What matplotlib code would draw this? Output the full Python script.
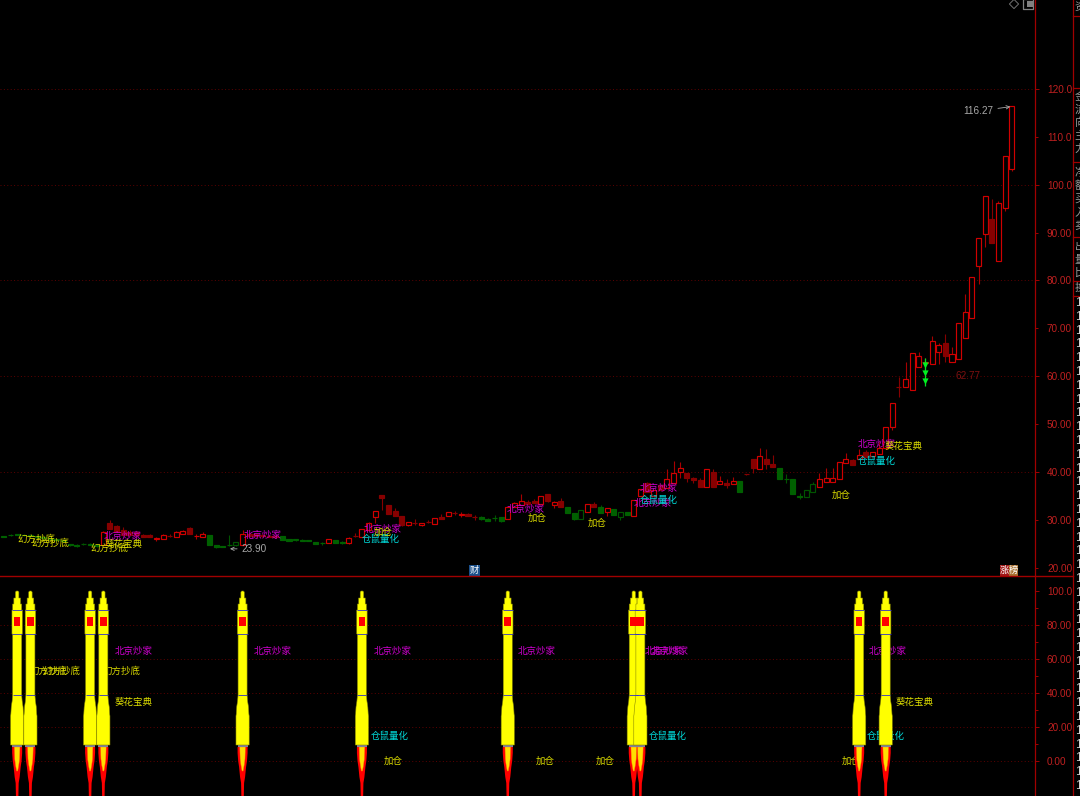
import matplotlib
matplotlib.use("Agg")
import matplotlib.pyplot as plt

plt.rcParams['font.family'] = ['Noto Sans CJK SC', 'DejaVu Sans']

# candles: r hollow red, d filled dark red, g filled green, h hollow green
kinds = list("gggggggggggghgg" "rdddddddrrdrrdrr" "gggghrddddd" "gggggggrggrdrrr"
             "ddddrdrdrdrdrdd" "ggggrrrddrdrd" "gghrdgrghg" "rrdrdrrrdddrdrdrg"
             "ddrddgggghh" "rrrrrdrdrrrr" "drrrrrrdrrrrrrdrrr")
opens = [26.5,26.8,26.9,26.8,26.7,26.5,26.3,26.1,25.9,25.7,24.9,24.6,24.9,25.0,24.8,
         24.7,29.3,28.6,27.8,27.5,27.5,26.8,26.8,26.0,26.0,26.6,26.3,27.1,28.3,26.5,26.4,
         26.8,24.7,24.4,24.7,24.6,24.8,26.9,26.9,26.8,26.6,26.5,26.6,25.9,25.9,
         25.7,25.7,25.4,25.2,25.2,25.7,25.4,25.2,26.6,26.3,27.9,30.5,35.2,33.1,31.8,30.8,
         28.8,29.2,28.9,29.6,29.0,30.6,30.75,31.3,31.0,31.1,30.6,30.6,30.1,30.4,30.5,
         30.05,32.6,33.1,33.7,33.8,33.2,35.4,33.1,33.8,32.6,31.3,30.05,31.7,33.2,
         32.7,31.5,32.2,30.6,31.5,30.8,35.0,37.6,35.0,37.2,36.7,37.6,40.0,39.7,38.8,38.3,
         36.9,40.0,37.4,37.6,37.4,38.05,39.5,42.6,40.5,42.6,41.6,40.85,38.5,38.4,34.9,
         34.8,35.7,36.9,37.8,37.9,38.55,41.8,42.45,42.6,44.2,43.3,43.65,44.9,49.3,
         57.8,57.8,57.0,61.95,62.8,62.45,64.95,67.0,62.85,63.6,68.0,72.05,83.1,89.6,92.8,84.05,95.1,103.2]
highs = [26.6,26.9,27.0,26.9,26.8,26.6,26.4,26.2,26.0,25.8,25.0,24.9,25.1,25.1,24.9,
         27.6,30.0,28.9,28.4,27.9,27.7,27.1,27.0,26.4,27.1,27.1,27.6,27.9,28.5,27.0,27.5,
         26.8,24.7,24.5,26.8,25.3,27.8,27.3,27.1,27.0,26.8,26.7,26.6,26.0,26.0,
         25.9,25.8,25.4,25.4,25.9,25.8,25.5,26.3,27.2,28.1,29.5,31.9,35.2,33.1,32.4,30.8,
         29.5,30.1,29.4,30.0,30.3,31.2,31.6,31.9,31.6,31.3,31.0,30.8,30.4,31.0,30.6,
         32.6,33.6,35.4,34.1,34.3,35.0,35.4,33.8,34.5,32.6,31.3,32.0,33.3,33.6,
         33.0,32.5,32.3,31.7,31.6,34.2,36.4,37.9,36.2,37.5,40.5,42.2,42.1,39.7,38.9,38.6,
         40.5,40.5,39.1,38.4,39.0,38.05,39.6,42.6,44.9,44.75,43.5,40.85,39.5,38.4,35.6,
         36.2,37.9,39.7,40.7,40.7,42.0,43.85,42.6,44.7,44.5,44.1,46.3,49.3,54.3,
         59.9,63.0,64.9,65.1,63.7,68.4,67.0,68.7,66.1,71.0,77.1,80.8,88.8,97.6,97.0,96.6,105.9,116.45]
lows = [26.3,26.6,26.7,26.6,26.4,26.2,26.0,25.8,25.6,25.4,24.5,24.3,24.6,24.7,24.3,
        24.6,28.0,27.4,26.7,26.7,26.7,26.3,26.3,25.6,26.0,26.4,26.3,27.1,27.0,26.0,26.4,
        24.8,24.1,24.3,24.4,24.5,24.8,26.4,26.4,26.4,26.3,26.2,25.8,25.5,25.6,
        25.5,25.5,24.9,24.8,25.2,25.2,25.0,24.9,26.4,26.3,27.9,29.3,32.0,31.2,30.8,28.7,
        28.6,28.9,28.7,29.3,29.0,30.2,30.75,31.0,30.6,30.8,30.0,30.0,29.8,29.8,29.6,
        30.05,32.6,33.1,33.3,33.4,33.2,33.7,32.5,32.7,31.3,29.9,30.05,31.7,32.7,
        31.3,30.8,31.0,30.0,30.9,30.8,35.0,35.8,35.0,36.2,36.7,37.6,38.8,37.85,37.6,36.9,
        36.9,36.9,37.4,36.7,37.4,35.8,39.4,39.65,40.5,40.5,40.9,38.4,37.6,35.4,34.4,
        34.8,35.7,36.9,37.8,37.9,38.55,41.8,41.4,42.6,43.15,43.3,43.65,44.9,48.7,
        55.7,57.8,57.0,61.95,60.5,62.45,62.5,63.0,62.85,63.6,68.0,72.05,79.2,87.0,87.9,84.05,94.4,102.9]
closes = [26.3,26.7,26.8,26.7,26.5,26.3,26.1,25.9,25.7,25.5,24.6,24.5,25.0,24.8,24.4,
          27.5,28.1,27.5,26.8,26.8,26.8,26.4,26.4,26.1,26.8,26.6,27.5,27.6,27.0,26.6,27.0,
          24.8,24.2,24.35,24.6,25.3,26.9,26.5,26.6,26.5,26.4,26.4,25.8,25.6,25.7,
          25.6,25.6,24.9,25.1,25.9,25.2,25.05,26.2,26.5,28.0,29.4,31.9,34.6,31.2,30.8,28.8,
          29.5,29.2,29.4,29.6,30.3,30.2,31.5,31.3,31.2,30.8,30.6,30.1,29.8,30.3,29.65,
          32.6,33.55,33.8,33.3,33.4,35.0,33.8,33.75,32.7,31.3,30.1,32.0,33.2,32.7,
          31.3,32.5,31.0,31.7,30.95,34.2,36.4,35.8,36.2,36.2,38.4,39.7,40.85,38.8,38.3,36.9,
          40.5,36.9,38.05,37.2,38.05,35.8,39.5,40.7,43.3,41.55,40.9,38.4,38.4,35.4,34.7,
          36.2,37.4,38.4,38.8,38.8,42.0,42.6,41.4,43.6,43.15,44.05,44.9,49.3,54.3,
          57.8,59.3,64.9,64.3,63.0,67.4,66.55,64.25,64.55,71.0,73.3,80.8,88.8,97.6,87.9,96.2,105.9,116.45]

price_ticks_major = [40, 60, 80, 100, 120]
price_labels_major = ["40.00", "60.00", "80.00", "100.0", "120.0"]
price_ticks_minor = [20, 30, 50, 70, 90, 110]
price_labels_minor = ["20.00", "30.00", "50.00", "70.00", "90.00", "110.0"]
osc_ticks = [0, 20, 40, 60, 80, 100]
osc_labels = ["0.00", "20.00", "40.00", "60.00", "80.00", "100.0"]
osc_minor = [10, 30, 50, 70, 90]

# labels on the candles: text, bar index, price
price_notes = [("幻方抄底", 2.1, 25.96), ("幻方抄底", 4.1, 25.1), ("幻方抄底", 13.1, 24.1),
               ("北京炒家", 15, 26.6), ("北京炒家", 36.1, 26.8), ("北京炒家", 54.3, 28.0),
               ("北京炒家", 75.9, 32.2), ("北京炒家", 95.9, 36.6), ("北京炒家", 95, 33.3),
               ("北京炒家", 128.8, 45.8), ("葵花宝典", 15.25, 24.9), ("葵花宝典", 132.9, 45.2),
               ("仓鼠量化", 54, 25.96), ("仓鼠量化", 95.9, 34.1), ("仓鼠量化", 128.8, 42.25),
               ("加仓", 55.8, 27.4), ("加仓", 79.05, 30.3), ("加仓", 88.1, 29.3), ("加仓", 124.9, 35.15)]
# labels in the lower panel: text, bar index, level
osc_notes = [("幻方抄底", 3.8, 52.9), ("幻方抄底", 5.75, 52.9), ("幻方抄底", 14.8, 52.9),
             ("北京炒家", 16.75, 64.7), ("北京炒家", 37.7, 64.7), ("北京炒家", 55.7, 64.7),
             ("北京炒家", 77.5, 64.7), ("北京炒家", 96.7, 64.7), ("北京炒家", 97.6, 64.7),
             ("北京炒家", 130.5, 64.7), ("葵花宝典", 16.75, 34.7), ("葵花宝典", 134.55, 34.7),
             ("仓鼠量化", 55.4, 14.7), ("仓鼠量化", 97.3, 14.7), ("仓鼠量化", 130.2, 14.7),
             ("加仓", 57.3, 0), ("加仓", 80.25, 0), ("加仓", 89.3, 0), ("加仓", 126.3, 0)]
note_colors = {"幻方抄底": "#d8d800", "北京炒家": "#d000d0", "葵花宝典": "#e0e000",
               "仓鼠量化": "#00d8d8", "加仓": "#d8d800"}

rocket_bars = [2, 4, 13, 15, 36, 54, 76, 95, 96, 129, 133]
green_arrow_bar = 139
green_arrow_prices = [62.3, 60.7, 59.0]

RED = "#a00000"
TICK_TEXT = "#c02020"
GRID = "#5e0000"
BAR_PX = 6.63
PX0 = 3.9
PRICE_PX = 4.785
OSC_PX = 1.7
NOTE_SIZE = 6.8

fig = plt.figure(figsize=(10.8, 7.96), dpi=100, facecolor="black")

def px_axes(top, bottom):
    return fig.add_axes([0, 1 - bottom / 796, 1035 / 1080, (bottom - top) / 796], facecolor="black")

ax = px_axes(0, 576)
ax2 = px_axes(576, 796)
ax.set_xlim(-PX0 / BAR_PX, (1035 - PX0) / BAR_PX)
ax2.set_xlim(-PX0 / BAR_PX, (1035 - PX0) / BAR_PX)
ax.set_ylim(120 - 487 / PRICE_PX, 120 + 89 / PRICE_PX)
ax2.set_ylim(100 - 205 / OSC_PX, 100 + 15 / OSC_PX)

for a in (ax, ax2):
    for s in ("left", "top", "bottom"):
        a.spines[s].set_visible(False)
    a.spines["right"].set_color(RED)
    a.spines["right"].set_linewidth(0.9)
    a.set_xticks([])
    a.yaxis.tick_right()
    a.tick_params(axis="y", which="major", length=3.2, width=0.7, color=RED, pad=5.4,
                  labelsize=7.2, labelcolor=TICK_TEXT)
    a.tick_params(axis="y", which="minor", length=1.8, width=0.7, color=RED, pad=6.8,
                  labelsize=7.2, labelcolor=TICK_TEXT)

ax.set_yticks(price_ticks_major, price_labels_major, family="Liberation Sans")
ax.set_yticks(price_ticks_minor, price_labels_minor, minor=True, family="Liberation Sans")
ax2.set_yticks(osc_ticks, osc_labels, family="Liberation Sans")
ax2.set_yticks(osc_minor, minor=True)

ax.hlines(price_ticks_major, *ax.get_xlim(), color=GRID, lw=0.7, ls=(0, (1, 2.5)), zorder=1)
ax2.hlines(osc_ticks[:-1], *ax2.get_xlim(), color=GRID, lw=0.7, ls=(0, (1, 2.5)), zorder=1)

# candles
edge = {"r": "#d00000", "d": "#860000", "g": "#006000", "h": "#005400"}
face = {"r": "black", "d": "#860000", "g": "#006000", "h": "black"}
wick = {"r": "#a80000", "d": "#860000", "g": "#005400", "h": "#005400"}
for i in range(len(opens)):
    k = kinds[i]
    ax.vlines(i, lows[i], highs[i], color=wick[k], lw=0.8, zorder=2)
    ax.bar(i, abs(closes[i] - opens[i]), bottom=min(opens[i], closes[i]), width=0.76,
           facecolor=face[k], edgecolor=edge[k], linewidth=0.85, zorder=3)

for txt, x, y in price_notes:
    ax.text(x, y, txt, color=note_colors[txt], fontsize=NOTE_SIZE, ha="left", va="center", zorder=6)

ax.annotate("116.27", xy=(151.8, 116.3), xytext=(149.3, 115.4), color="#a8a8a8", fontsize=7.2,
            family="Liberation Sans", ha="right", va="center", zorder=6,
            arrowprops=dict(arrowstyle="->", color="#a8a8a8", lw=0.6, shrinkA=1, shrinkB=0, mutation_scale=6))
ax.annotate("23.90", xy=(34.1, 23.9), xytext=(35.8, 23.9), color="#a8a8a8", fontsize=7.2,
            family="Liberation Sans", ha="left", va="center", zorder=6,
            arrowprops=dict(arrowstyle="->", color="#a8a8a8", lw=0.6, shrinkA=1, shrinkB=0, mutation_scale=6))
ax.text(143.6, 60.0, "62.77", color="#7c1010", fontsize=7.2, family="Liberation Sans",
        ha="left", va="center", zorder=6)

ax.vlines(green_arrow_bar, 58.0, 63.7, color="#00e020", lw=0.9, zorder=5)
ax.scatter([green_arrow_bar] * 3, green_arrow_prices, marker="v", s=20, color="#00f020",
           linewidths=0, zorder=5)

# lower panel
for txt, x, y in osc_notes:
    ax2.text(x, y, txt, color=note_colors[txt], fontsize=NOTE_SIZE, ha="left", va="center", zorder=2)

# rocket outline: distance under the tip and half width, in pixels
body_shape = [(0, 0.8), (1, 1.7), (7, 1.7), (7, 3.3), (13, 3.3), (13, 4.5), (19, 4.5), (19, 5.2),
              (43, 5.2), (43, 4.5), (104, 4.5), (110, 5.0), (116, 5.9), (123, 6.3), (125, 6.6), (154, 6.6)]
flame_shape = [(156, 5), (162, 5), (170, 4.4), (176, 3.5), (186, 2.5), (192, 1.5), (206, 1.2)]
core_shape = [(156, 2.8), (168, 2.4), (174, 1.6), (180, 0.5)]
blue_lines = [19, 43, 104]

def rocket_part(bar, shape, **kw):
    xs = [bar - w / BAR_PX for d, w in shape] + [bar + w / BAR_PX for d, w in reversed(shape)]
    ys = [100 - d / OSC_PX for d, w in shape] + [100 - d / OSC_PX for d, w in reversed(shape)]
    ax2.fill(xs, ys, **kw)

for bar in rocket_bars:
    rocket_part(bar, flame_shape, facecolor="#ff0000", edgecolor="none", zorder=3)
    rocket_part(bar, core_shape, facecolor="#ffe000", edgecolor="#ff8000", linewidth=0.3, zorder=3.1)
    rocket_part(bar, [(154, 5), (156, 5)], facecolor="#8080a0", edgecolor="none", zorder=3.2)
    rocket_part(bar, body_shape, facecolor="#ffff00", edgecolor="#8a8a00", linewidth=0.4, zorder=4)
    rocket_part(bar, [(26, 3.3), (35, 3.3)], facecolor="#ff0000", edgecolor="none", zorder=4.1)
    for d in blue_lines:
        w = 5.2 if d < 100 else 4.5
        ax2.hlines(100 - d / OSC_PX, bar - w / BAR_PX, bar + w / BAR_PX, color="#3030c8", lw=0.6, zorder=4.2)

# window furniture, in screen pixels
chrome = fig.add_axes([0, 0, 1, 1], facecolor="none")
chrome.set_xlim(0, 1080)
chrome.set_ylim(796, 0)
chrome.axis("off")
chrome.plot([0, 1073], [576, 576], color=RED, lw=1.0)
chrome.plot([1073, 1073], [0, 796], color=RED, lw=0.9)
for y in [16, 88, 162, 237, 281, 296]:
    chrome.plot([1073, 1080], [y, y], color=RED, lw=0.9)

side_chars = ["资", "金", "流", "向", "主", "力", "净", "额", "买", "入", "卖", "出", "量", "比", "换", "手", "率", "振"]
for n, y in enumerate([8, 97, 110, 123, 136, 149, 173, 186, 199, 212, 225, 247, 260, 273, 288]):
    chrome.text(1074.5, y, side_chars[n], color="#989898", fontsize=8, ha="left", va="center", clip_on=True)
y = 303
while y < 796:
    chrome.text(1075, y, "1", color="#d0d0d0", fontsize=8.5, family="Liberation Sans", ha="left", va="center")
    y += 13.8

chrome.scatter([1014], [4], marker="D", s=22, facecolor="none", edgecolor="#707070", linewidths=0.7)
chrome.scatter([1028], [4], marker="s", s=50, facecolor="none", edgecolor="#808080", linewidths=0.9)
chrome.scatter([1030], [4], marker="s", s=14, color="#808080", linewidths=0)

def tag(x0, x1, txt, bg, fg="white"):
    chrome.fill([x0, x1, x1, x0], [565, 565, 576, 576], color=bg, lw=0)
    chrome.text((x0 + x1) / 2, 570.5, txt, color=fg, fontsize=6.6, ha="center", va="center")

tag(469, 480, "财", "#1a4f8a")
tag(1000, 1009, "涨", "#a01818")
tag(1009, 1018, "榜", "#a87030")

fig.savefig("out.png", dpi=100, facecolor="black")
